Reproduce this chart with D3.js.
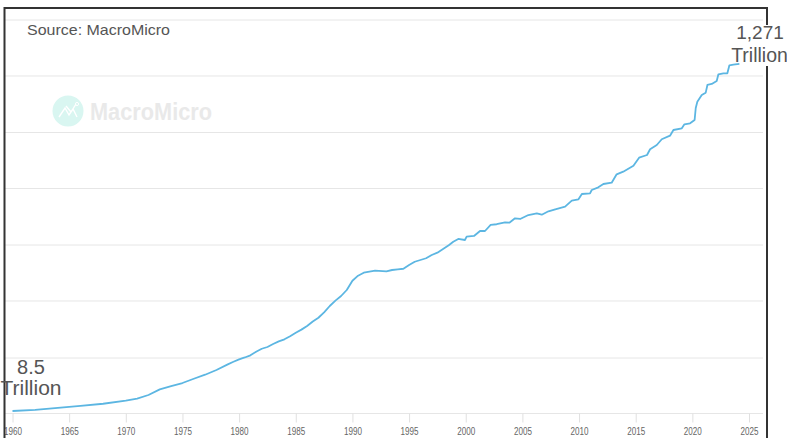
<!DOCTYPE html>
<html>
<head>
<meta charset="utf-8">
<script src="https://cdn.jsdelivr.net/npm/d3@7"></script>
<style>
  html, body { margin: 0; padding: 0; background: #fff; overflow: hidden; }
  text { font-family: "Liberation Sans", Arial, sans-serif; }
</style>
</head>
<body>
<div id="chart"></div>
<script>
// values, in trillions
let years = [
  1960, 1962, 1964, 1966, 1968, 1970, 1971, 1972, 1973, 1974, 1975, 1976, 1977, 1978, 1979, 1979.5,
  1980, 1980.5, 1981, 1981.5, 1982, 1982.5, 1983, 1983.5, 1984, 1984.5, 1985, 1985.5, 1986, 1986.5,
  1987, 1987.5, 1988, 1988.5, 1989, 1989.5, 1990, 1990.5, 1991, 1992, 1993, 1993.5, 1994, 1994.5,
  1995, 1995.5, 1996, 1996.5, 1997, 1997.5, 1998, 1998.5, 1998.9, 1999.34, 1999.93, 2000.08, 2000.73, 2001.26,
  2001.7, 2002.2, 2002.73, 2003.47, 2003.85, 2004.35, 2004.8, 2005.53, 2006.27, 2006.71, 2007.3, 2007.9, 2008.77, 2009.36,
  2009.95, 2010.25, 2010.97, 2011.12, 2011.7, 2012.15, 2012.88, 2013.32, 2013.9, 2014.8, 2015.3, 2016, 2016.27, 2016.86,
  2017.3, 2018.03, 2018.33, 2019.07, 2019.3, 2019.8, 2020.2, 2020.3, 2020.44, 2020.83, 2021.18, 2021.33, 2021.71, 2022.15,
  2022.3, 2022.74, 2023.09, 2023.27, 2023.62, 2024.15
]
let debt = [
  8.5, 8.64, 8.88, 9.14, 9.44, 9.86, 10.15, 10.71, 11.62, 12.19, 12.73, 13.54, 14.35, 15.36, 16.67, 17.3,
  17.92, 18.4, 18.98, 20, 20.87, 21.4, 22.34, 23.2, 23.92, 25, 26.31, 27.5, 28.98, 30.9,
  32.65, 35.3, 38.66, 41.8, 44.67, 48.71, 55.7, 59.87, 62.53, 64.36, 63.8, 65, 65.67, 66.2,
  69.86, 73.2, 75.1, 77, 80.71, 83.5, 88.01, 93, 97.8, 101.7, 100.2, 105.1, 106.2, 114.1,
  114.1, 124.5, 125.8, 129.4, 128.6, 137, 135.7, 143.7, 147.3, 144.3, 151.6, 156.1, 162, 176.7,
  180.3, 194.6, 196.5, 206.1, 214.3, 224.8, 229, 258.5, 268.5, 292.8, 328.6, 341.6, 370.9, 394.6,
  428.5, 451.3, 489.9, 502.2, 532, 539.7, 566, 673, 737.1, 812.1, 839.5, 937.9, 951.5, 993.6,
  1094, 1110, 1110, 1246, 1257, 1271
]
let yearTicks = [1960, 1965, 1970, 1975, 1980, 1985, 1990, 1995, 2000, 2005, 2010, 2015, 2020, 2025]
let gridValues = [8.2, 18.26, 41.57, 93.2, 210.7, 472.7, 1068, 2395]

let svg = d3.select("#chart")
  .append("svg")
  .attr("width", 787)
  .attr("height", 438)

// スケール
let xscale = d3.scaleLinear().domain([1960, 2025]).range([12.5, 749])
let yscale = d3.scaleLog().domain([8.2, 2395]).range([413.5, 20])

// grid lines
svg.append("g")
  .selectAll("line")
  .data(gridValues)
  .enter()
  .append("line")
  .attr("x1", 5)
  .attr("x2", 763)
  .attr("y1", d => yscale(d))
  .attr("y2", d => yscale(d))
  .attr("stroke", "#e6e6e6")
  .attr("stroke-width", 1)

// x axis
let gx = svg.append("g")
  .attr("transform", "translate(0,413.5)")
  .call(d3.axisBottom(xscale).tickValues(yearTicks).tickFormat(d3.format("d")).tickSize(9).tickPadding(5))
gx.select(".domain").remove()
gx.selectAll("line").attr("stroke", "#e0e0e0")
gx.selectAll("text")
  .attr("fill", "#666")
  .attr("font-size", "10px")
  .attr("textLength", 18)
  .attr("lengthAdjust", "spacingAndGlyphs")

// line
let line = d3.line()
  .x((d, i) => xscale(years[i]))
  .y(d => yscale(d))
svg.append("path")
  .datum(debt)
  .attr("fill", "none")
  .attr("stroke", "#5cb6e2")
  .attr("stroke-width", 1.8)
  .attr("stroke-linejoin", "round")
  .attr("d", line)

// watermark
svg.append("circle")
  .attr("cx", 68)
  .attr("cy", 111)
  .attr("r", 15.5)
  .attr("fill", "#d9f6f1")
svg.append("path")
  .attr("d", "M59,117 L65,108 L69,115 L73,109 L77,117 M66,106 L71,112 L76,104")
  .attr("fill", "none")
  .attr("stroke", "#fff")
  .attr("stroke-width", 1.4)
svg.append("circle")
  .attr("cx", 77)
  .attr("cy", 104)
  .attr("r", 1.6)
  .attr("fill", "none")
  .attr("stroke", "#fff")
svg.append("text")
  .attr("x", 90)
  .attr("y", 120)
  .attr("font-size", "24px")
  .attr("font-weight", "bold")
  .attr("fill", "#e9e9e9")
  .attr("textLength", 122)
  .attr("lengthAdjust", "spacingAndGlyphs")
  .text("MacroMicro")

// frame
svg.append("path")
  .attr("d", "M4.5,438 L4.5,8 L767,8 L767,438")
  .attr("fill", "none")
  .attr("stroke", "#333")
  .attr("stroke-width", 2)

svg.append("text")
  .attr("x", 27)
  .attr("y", 35)
  .attr("font-size", "15px")
  .attr("fill", "#555")
  .attr("textLength", 143)
  .attr("lengthAdjust", "spacingAndGlyphs")
  .text("Source: MacroMicro")

// end labels, the right one sits on a white patch that cuts the frame
svg.append("rect")
  .attr("x", 762)
  .attr("y", 25)
  .attr("width", 12)
  .attr("height", 41)
  .attr("fill", "#fff")

svg.append("text")
  .attr("x", 31)
  .attr("y", 374)
  .attr("text-anchor", "middle")
  .attr("font-size", "20px")
  .attr("fill", "#555")
  .text("8.5")
svg.append("text")
  .attr("x", 31)
  .attr("y", 395)
  .attr("text-anchor", "middle")
  .attr("font-size", "21px")
  .attr("fill", "#555")
  .text("Trillion")
svg.append("text")
  .attr("x", 760)
  .attr("y", 39)
  .attr("text-anchor", "middle")
  .attr("font-size", "19px")
  .attr("fill", "#555")
  .text("1,271")
svg.append("text")
  .attr("x", 759.5)
  .attr("y", 62)
  .attr("text-anchor", "middle")
  .attr("font-size", "19.5px")
  .attr("fill", "#555")
  .text("Trillion")
</script>
</body>
</html>
